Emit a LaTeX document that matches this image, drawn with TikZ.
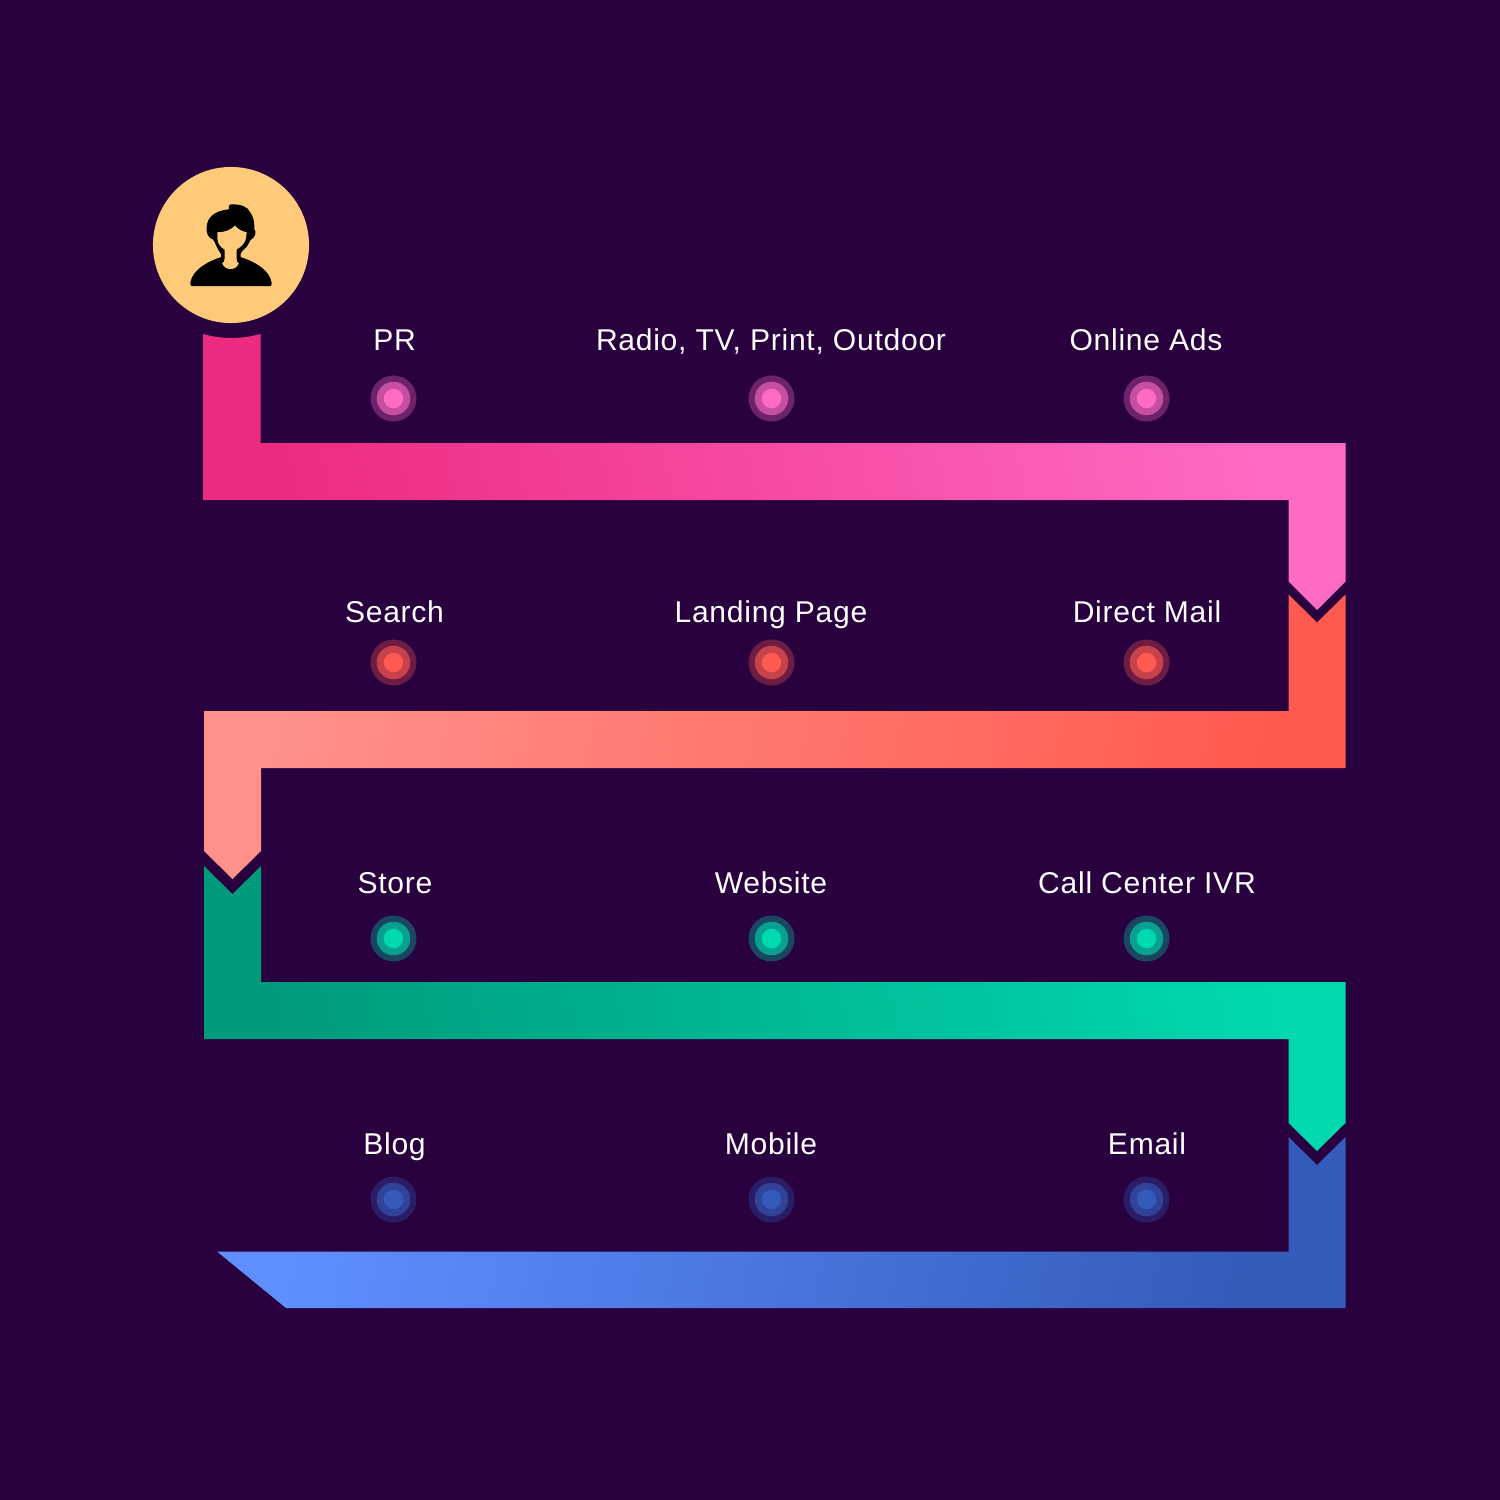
\documentclass[tikz,border=0pt]{standalone}
\usepackage{fontspec}
\setmainfont[LetterSpace=2.4]{Liberation Sans}
\definecolor{bgc}{HTML}{28013E}
\definecolor{skin}{HTML}{FFCB7A}
\definecolor{pinkA}{HTML}{ED2B80}\definecolor{pinkB}{HTML}{FF6BC4}
\definecolor{redA}{HTML}{FF5A4F}\definecolor{redB}{HTML}{FF918A}
\definecolor{greenA}{HTML}{009B7C}\definecolor{greenB}{HTML}{00D8AE}
\definecolor{blueA}{HTML}{345BBA}\definecolor{blueB}{HTML}{5F8FFF}
\tikzset{
  lbl/.style={text=white,inner sep=0pt,anchor=base,font=\fontsize{8.55pt}{10pt}\selectfont},
  dotouter/.style={circle,minimum size=0.46cm,inner sep=0pt,draw=none,fill opacity=.32},
  dotmid/.style={circle,minimum size=0.335cm,inner sep=0pt,draw=none,fill opacity=.62},
  dotinner/.style={circle,minimum size=0.195cm,inner sep=0pt,draw=none},
  bandup/.style 2 args={left color=#1,right color=#2,shading angle=103},
  banddown/.style 2 args={left color=#1,right color=#2,shading angle=77},
}
\newcommand{\jdot}[4]{%
  \node[dotouter,fill=#4] (#1o) at (#2,#3) {};
  \node[dotmid,fill=#4] (#1m) at (#2,#3) {};
  \node[dotinner,fill=#4] (#1i) at (#2,#3) {};
}
\begin{document}
\begin{tikzpicture}[x=0.01cm,y=-0.01cm]
\fill[bgc] (0,0) rectangle (1500,1500);
\useasboundingbox (0,0) rectangle (1500,1500);
% bands
\shade[bandup={pinkA}{pinkB}]
  (203,334) .. controls (222,339.3) and (241,339.3) .. (260.5,334) -- (260.5,443) -- (1345.5,443) -- (1345.5,581.5) -- (1317,610) -- (1288.5,581.5) -- (1288.5,500) -- (203,500) -- cycle;
\shade[banddown={redB}{redA}]
  (1345.5,594.5) -- (1317,622.5) -- (1288.5,594.5) -- (1288.5,711) -- (204,711) -- (204,851) -- (232.5,879) -- (261,851) -- (261,768) -- (1345.5,768) -- cycle;
\shade[bandup={greenA}{greenB}]
  (204,866) -- (232.5,894) -- (261,866) -- (261,982) -- (1345.5,982) -- (1345.5,1123) -- (1317,1151) -- (1288.5,1123) -- (1288.5,1039) -- (204,1039) -- cycle;
\shade[banddown={blueB}{blueA}]
  (1345.5,1137) -- (1317,1165) -- (1288.5,1137) -- (1288.5,1251.5) -- (217,1251.5) -- (286,1308) -- (1345.5,1308) -- cycle;
% avatar
\node[circle,fill=skin,minimum size=1.56cm,inner sep=0pt] (avatar) at (231,245) {};
\fill[black] (231,204.3) .. controls (241,204) and (248,207) .. (250,212) .. controls (254,217) and (254.5,224) .. (254.3,229)
  .. controls (257,232) and (255,238) .. (250.5,240) .. controls (248.5,243) and (248,246) .. (245,248.5)
  .. controls (243,251) and (240.5,252) .. (240.5,254) -- (240.5,262) -- (221,262) -- (221,254)
  .. controls (219.5,252) and (218.5,250) .. (216.7,246.7) .. controls (215,243) and (214.5,241) .. (213,239.5)
  .. controls (208,238) and (206,233) .. (206.7,226.7) .. controls (207.5,218) and (213,211) .. (229,209.3)
  .. controls (228,206.5) and (229,204.5) .. (231,204.3) -- cycle;
\fill[black] (190.3,283) .. controls (192,270) and (208,261) .. (221.7,257) -- (240,257)
  .. controls (254,261) and (270,270) .. (271.7,283) .. controls (272,285.5) and (271,286) .. (270,286)
  -- (192,286) .. controls (191,286) and (190,285.5) .. (190.3,283) -- cycle;
\fill[skin] (217.3,232.3) .. controls (224,232.5) and (231,230) .. (235,225.7)
  .. controls (238,229) and (242,231.5) .. (246.7,232.3) -- (246,238) .. controls (245.5,243) and (241,247) .. (236.5,249.5)
  -- (236.5,259) .. controls (236.5,261) and (237.5,262.5) .. (238.8,263.5)
  .. controls (237,267.5) and (234,269) .. (230.5,269) .. controls (227,269) and (224,267.5) .. (222.2,263.5)
  .. controls (223.5,262.5) and (224.5,261) .. (224.5,259) -- (224.5,249.5)
  .. controls (220,247) and (217.3,243) .. (217.3,238) -- cycle;
% dots
\jdot{a1}{393.5}{398.5}{pinkB}
\jdot{a2}{771.5}{398.5}{pinkB}
\jdot{a3}{1146.5}{398.5}{pinkB}
\jdot{b1}{393.5}{662.5}{redA}
\jdot{b2}{771.5}{662.5}{redA}
\jdot{b3}{1146.5}{662.5}{redA}
\jdot{c1}{393.5}{938.5}{greenB}
\jdot{c2}{771.5}{938.5}{greenB}
\jdot{c3}{1146.5}{938.5}{greenB}
\jdot{d1}{393.5}{1199.5}{blueA}
\jdot{d2}{771.5}{1199.5}{blueA}
\jdot{d3}{1146.5}{1199.5}{blueA}
% labels
\node[lbl] (l1) at (394.5,350) {PR};
\node[lbl] (l2) at (771,350) {Radio, TV, Print, Outdoor};
\node[lbl] (l3) at (1146,350) {Online Ads};
\node[lbl] (l4) at (394.5,622) {Search};
\node[lbl] (l5) at (771,622) {Landing Page};
\node[lbl] (l6) at (1147,622) {Direct Mail};
\node[lbl] (l7) at (395,893) {Store};
\node[lbl] (l8) at (771,893) {Website};
\node[lbl] (l9) at (1147,893) {Call Center IVR};
\node[lbl] (l10) at (394.5,1154) {Blog};
\node[lbl] (l11) at (771,1154) {Mobile};
\node[lbl] (l12) at (1147,1154) {Email};
\end{tikzpicture}
\end{document}
